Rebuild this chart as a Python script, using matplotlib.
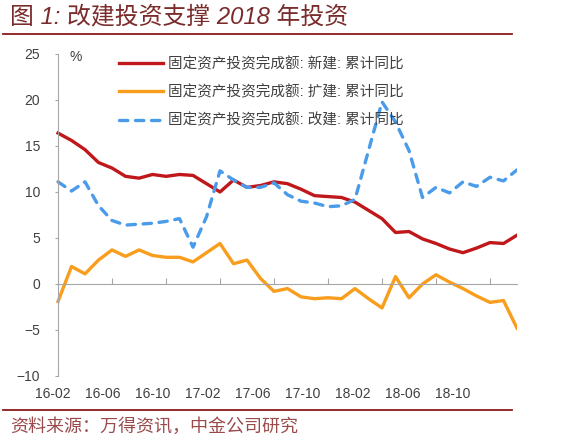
import matplotlib
matplotlib.use("Agg")
import matplotlib.pyplot as plt
import numpy as np
import pandas as pd

plt.rcParams['font.family'] = ['Liberation Sans', 'Noto Sans CJK SC', 'DejaVu Sans']

# months 16-02 .. 18-12
months = pd.date_range('2016-02-01', periods=35, freq='MS').strftime('%y-%m')
tick_labels = ['16-02', '16-06', '16-10', '17-02', '17-06', '17-10', '18-02', '18-06', '18-10']

# 新建 (new construction), cumulative yoy %
new_build = [16.4, 15.6, 14.6, 13.2, 12.6, 11.7, 11.5, 11.9, 11.7, 11.9,
             11.8, 10.9, 10.0, 11.3, 10.5, 10.7, 11.1, 10.9, 10.3, 9.6,
             9.5, 9.4, 8.9, 8.0, 7.1, 5.6, 5.7, 4.9, 4.4, 3.8,
             3.4, 3.9, 4.5, 4.4, 5.3]
# 扩建 (expansion)
expand = [-1.9, 1.9, 1.1, 2.6, 3.7, 3.0, 3.7, 3.1, 2.9, 2.9,
          2.4, 3.4, 4.4, 2.2, 2.6, 0.6, -0.8, -0.5, -1.4, -1.6,
          -1.5, -1.6, -0.5, -1.6, -2.6, 0.8, -1.5, 0.0, 1.0, 0.2,
          -0.5, -1.3, -2.0, -1.8, -4.8]
# 改建 (reconstruction)
rebuild = [11.1, 10.1, 11.1, 8.5, 6.9, 6.4, 6.5, 6.6, 6.8, 7.1,
           4.0, 7.3, 12.3, 11.3, 10.5, 10.5, 11.0, 9.7, 9.0, 8.8,
           8.4, 8.5, 9.2, 14.5, 19.8, 17.6, 14.5, 9.4, 10.5, 9.9,
           11.1, 10.6, 11.6, 11.2, 12.4]

labels = ['固定资产投资完成额: 新建: 累计同比',
          '固定资产投资完成额: 扩建: 累计同比',
          '固定资产投资完成额: 改建: 累计同比']

x = np.arange(len(months))

fig = plt.figure(figsize=(5.67, 4.46), dpi=100)
ax = fig.add_axes([0.0928, 0.157, 0.819, 0.722])

ax.plot(x, new_build, color='#C0171B', lw=2.4, solid_joinstyle='round', label=labels[0])
ax.plot(x, expand, color='#F99D1C', lw=2.4, solid_joinstyle='round', label=labels[1])
ax.plot(x, rebuild, color='#4A9BEA', lw=2.4, dashes=(2.5, 2.3), dash_capstyle='round',
        label=labels[2])

# a little room on the left so the first date label is kept
ax.set_xlim(-0.4, len(months) - 1)
ax.set_ylim(-10, 25)
ax.set_yticks(range(-10, 30, 5))

for s in ['top', 'right']:
    ax.spines[s].set_visible(False)
ax.spines['left'].set_color('#A6A6A6')
ax.spines['left'].set_position(('data', 0))
ax.spines['bottom'].set_color('#A6A6A6')
ax.spines['bottom'].set_position(('data', 0))
ax.spines['bottom'].set_bounds(0, len(months) - 1)

ax.set_xticks(np.arange(0, len(months), 4))
ax.tick_params(axis='x', direction='in', length=4, color='#A6A6A6', labelbottom=False)
ax.tick_params(axis='y', direction='out', length=2.5, color='#A6A6A6', pad=10.5,
               labelsize=10, labelcolor='#404040')

# date labels sit on their own row under the plot, slightly tighter than the ticks
sec = ax.secondary_xaxis('bottom', functions=(lambda v: (v + 0.37) * 54 / 50,
                                               lambda u: u * 50 / 54 - 0.37))
sec.set_xticks(np.arange(0, 4 * len(tick_labels), 4), labels=tick_labels)
sec.tick_params(length=0, pad=8, labelsize=10, labelcolor='#404040')
sec.spines['bottom'].set_visible(False)

ax.text(0.05, 0.99, '%', transform=ax.transAxes, ha='center', va='center',
        fontsize=10, color='#404040')

leg = ax.legend(loc='upper left', bbox_to_anchor=(0.2, 0.886), bbox_transform=fig.transFigure,
                frameon=False, fontsize=10.5, handlelength=3.0, handletextpad=0.35,
                labelspacing=0.95, borderaxespad=0)
for t in leg.get_texts():
    t.set_color('#404040')

# title, rules and source
fig.text(0.018, 0.962, '图 1: 改建投资支撑 2018 年投资', fontsize=17.2, style='italic',
         color='#7A2B2B', ha='left', va='center')
fig.add_artist(plt.Line2D([0.005, 0.903], [0.9238, 0.9238], color='#8B1A1A', lw=1.3))
fig.add_artist(plt.Line2D([0.005, 0.903], [0.0807, 0.0807], color='#8B1A1A', lw=1.3))
fig.text(0.018, 0.043, '资料来源：万得资讯，中金公司研究', fontsize=13, style='italic',
         color='#9A4A4A', ha='left', va='center')

fig.savefig('out.png', dpi=100)
